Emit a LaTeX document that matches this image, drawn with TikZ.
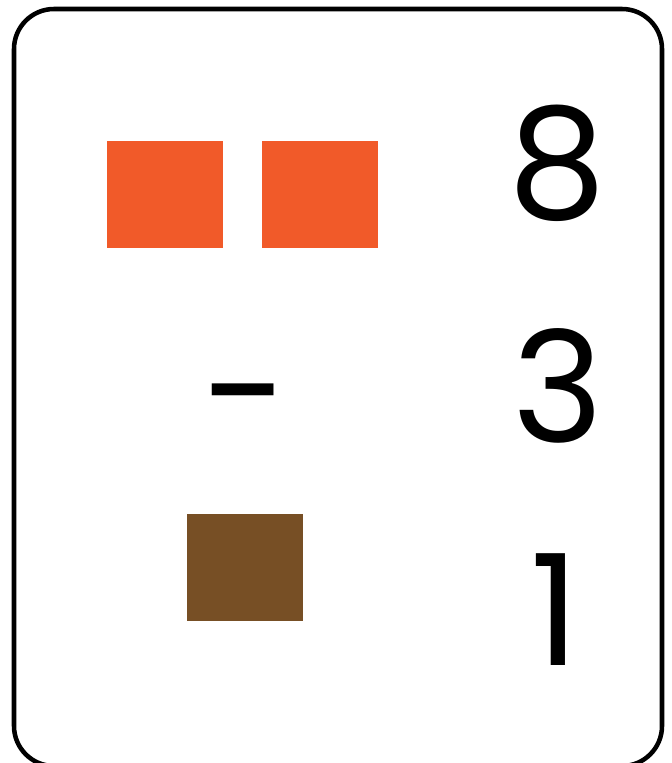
\documentclass[tikz,border=0pt]{standalone}
\usepackage{fontspec}
\newfontfamily\digitfont{Poppins}
\definecolor{tileorange}{HTML}{F15A29}
\definecolor{tilebrown}{HTML}{774F25}
\begin{document}
\begin{tikzpicture}[x=0.75pt,y=-0.75pt,
  frame/.style={draw=black,line width=3.4pt,rounded corners=30pt},
  tileA/.style={fill=tileorange,draw=none},
  tileB/.style={fill=tilebrown,draw=none},
  digit/.style={font=\digitfont\fontsize{116}{116}\selectfont,inner sep=0pt,anchor=base}]
\useasboundingbox (0,0) rectangle (671,763);
\begin{scope}
\clip (0,0) rectangle (671,763);
\draw[frame] (14,9) rectangle (662,766);
\end{scope}
\fill[tileA] (107,141) rectangle (223,248);
\fill[tileA] (262,141) rectangle (378,248);
\fill[tileB] (187,514) rectangle (303,621);
\node[digit] (eight) at (557,218) {8};
\node[digit] (three) at (558,442) {3};
\node[digit] (one) at (555,665) {1};
\node[digit] (minus) at (243,446) {−};
\end{tikzpicture}
\end{document}
